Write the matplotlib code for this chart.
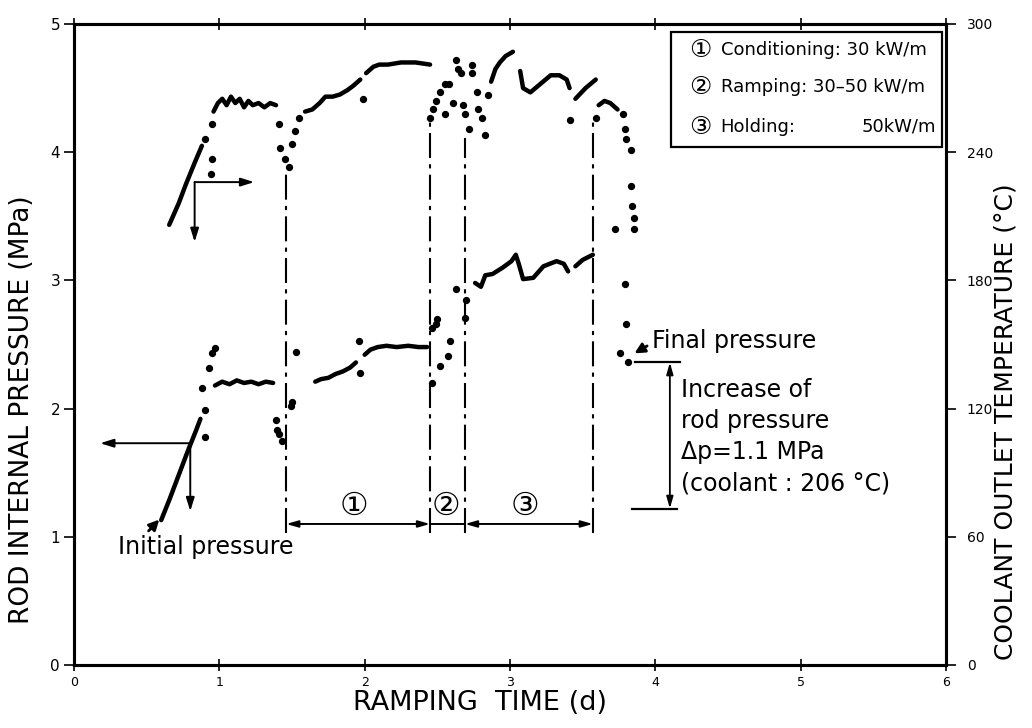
import matplotlib
matplotlib.use("Agg")
import matplotlib.pyplot as plt
from matplotlib.patches import Rectangle

plt.rcParams['font.family'] = ['DejaVu Sans', 'Noto Sans CJK JP']

# rod internal pressure (MPa) -- dense runs drawn as traces, sparse readings as dots
p_ramp_day = [0.60, 0.66, 0.72, 0.78, 0.84, 0.87]
p_ramp_mpa = [1.13, 1.30, 1.48, 1.66, 1.83, 1.92]
p_plat_day = [0.97, 1.02, 1.07, 1.12, 1.17, 1.22, 1.27, 1.32, 1.37]
p_plat_mpa = [2.18, 2.21, 2.19, 2.22, 2.20, 2.21, 2.19, 2.21, 2.20]
p_cond_day = [1.66, 1.70, 1.75, 1.80, 1.85, 1.90, 1.94]
p_cond_mpa = [2.21, 2.23, 2.24, 2.27, 2.29, 2.32, 2.36]
p_cond2_day = [2.00, 2.04, 2.09, 2.15, 2.22, 2.30, 2.37, 2.43]
p_cond2_mpa = [2.42, 2.46, 2.48, 2.49, 2.48, 2.49, 2.48, 2.48]
p_hold_day = [2.76, 2.80, 2.83, 2.88, 2.95, 3.01, 3.04, 3.06, 3.09, 3.16, 3.23, 3.32, 3.37, 3.40]
p_hold_mpa = [2.98, 2.95, 3.04, 3.05, 3.10, 3.15, 3.20, 3.13, 3.01, 3.02, 3.11, 3.15, 3.13, 3.07]
p_hold2_day = [3.45, 3.50, 3.57]
p_hold2_mpa = [3.11, 3.16, 3.20]
p_dot_day = [0.88, 0.90, 0.90, 0.93, 0.95, 0.97, 1.39, 1.40, 1.41, 1.43, 1.49, 1.50, 1.53,
             1.96, 1.97, 2.46, 2.46, 2.49, 2.50, 2.52, 2.57, 2.59, 2.63, 2.69, 2.70,
             3.76, 3.79, 3.80, 3.81]
p_dot_mpa = [2.16, 1.78, 1.99, 2.32, 2.43, 2.47, 1.91, 1.83, 1.80, 1.75, 2.02, 2.05, 2.44,
             2.53, 2.28, 2.20, 2.63, 2.66, 2.70, 2.33, 2.41, 2.53, 2.93, 2.71, 2.85,
             2.43, 2.97, 2.66, 2.36]

# coolant outlet temperature (deg C)
t_ramp_day = [0.655, 0.72, 0.77, 0.83, 0.88]
t_ramp_c = [206, 216, 225, 235, 243]
t_plat_day = [0.96, 0.99, 1.02, 1.05, 1.08, 1.11, 1.14, 1.17, 1.20, 1.23, 1.27, 1.31, 1.35, 1.39]
t_plat_c = [259, 263, 265, 262, 266, 263, 265, 261, 264, 262, 263, 261, 263, 262]
t_cond_day = [1.59, 1.64, 1.69, 1.73, 1.78, 1.83, 1.88, 1.92, 1.97]
t_cond_c = [259, 260, 263, 266, 266, 267, 269, 271, 274]
t_cond2_day = [2.01, 2.06, 2.10, 2.16, 2.25, 2.35, 2.45]
t_cond2_c = [277, 280, 281, 281, 282, 282, 281]
t_hold_day = [2.87, 2.90, 2.93, 2.97, 3.02]
t_hold_c = [273, 279, 282, 285, 287]
t_hold2_day = [3.07, 3.09, 3.14, 3.21, 3.28, 3.34, 3.39, 3.41]
t_hold2_c = [278, 270, 268, 272, 276, 276, 274, 270]
t_hold3_day = [3.45, 3.52, 3.59]
t_hold3_c = [265, 270, 274]
t_end_day = [3.61, 3.65, 3.69, 3.74]
t_end_c = [262, 264, 263, 260]
t_dot_day = [0.90, 0.94, 0.95, 0.95, 1.41, 1.42, 1.45, 1.48, 1.50, 1.52, 1.55, 1.99,
             2.45, 2.47, 2.49, 2.52, 2.55, 2.55, 2.58, 2.61, 2.63, 2.64, 2.66, 2.68,
             2.69, 2.72, 2.74, 2.74, 2.77, 2.78, 2.81, 2.83, 2.85, 3.41, 3.59, 3.72,
             3.78, 3.79, 3.80, 3.83, 3.83, 3.84, 3.85, 3.85]
t_dot_c = [246, 230, 237, 253, 253, 242, 237, 233, 244, 250, 256, 265,
           256, 260, 264, 268, 272, 258, 272, 263, 283, 279, 277, 262,
           258, 251, 281, 277, 268, 260, 256, 248, 267, 255, 256, 204,
           258, 251, 246, 241, 224, 215, 209, 204]

# phase boundaries (d) and how high each marker line reaches (MPa)
phase_edges = [1.46, 2.45, 2.69, 3.57]
edge_tops = [3.83, 4.24, 4.11, 4.24]
phase_marks = ['\u2460', '\u2461', '\u2462']
legend_rows = ['Conditioning: 30 kW/m', 'Ramping: 30\u201350 kW/m', 'Holding:']

initial_p = 1.13
final_p = 2.36
base_p = 1.22

fig = plt.figure(figsize=(10.32, 7.28), dpi=100)
ax = fig.add_axes([74 / 1032, 63 / 728, 872 / 1032, 641 / 728])
ax2 = ax.twinx()

ax.set_xlim(0, 6)
ax.set_ylim(0, 5)
ax2.set_ylim(0, 300)
ax.set_xticks(range(7))
ax.set_yticks(range(6))
ax2.set_yticks(range(0, 301, 60))
ax.tick_params(axis='x', direction='inout', length=8, width=1.2, top=True, labelsize=9, pad=4)
ax.tick_params(axis='y', direction='out', length=7, width=1.2, labelsize=11, pad=3)
ax2.tick_params(axis='y', direction='out', length=7, width=1.2, labelsize=10, pad=8)
for a in (ax, ax2):
    for s in a.spines.values():
        s.set_linewidth(2.2)

blk = 'black'
for xs, ys in [(p_ramp_day, p_ramp_mpa), (p_plat_day, p_plat_mpa), (p_cond_day, p_cond_mpa),
               (p_cond2_day, p_cond2_mpa), (p_hold_day, p_hold_mpa), (p_hold2_day, p_hold2_mpa)]:
    ax.plot(xs, ys, color=blk, lw=3.2, solid_capstyle='round')
ax.scatter(p_dot_day, p_dot_mpa, s=18, color=blk, zorder=3)

for xs, ys in [(t_ramp_day, t_ramp_c), (t_plat_day, t_plat_c), (t_cond_day, t_cond_c),
               (t_cond2_day, t_cond2_c), (t_hold_day, t_hold_c), (t_hold2_day, t_hold2_c),
               (t_hold3_day, t_hold3_c), (t_end_day, t_end_c)]:
    ax2.plot(xs, ys, color=blk, lw=3.2, solid_capstyle='round')
ax2.scatter(t_dot_day, t_dot_c, s=18, color=blk, zorder=3)

# phase boundaries and interval arrows
for xe, top in zip(phase_edges, edge_tops):
    ax.plot([xe, xe], [1.03, top], color=blk, lw=1.5, ls=(0, (12, 3, 2, 3)))
arr = dict(arrowstyle='<|-|>,head_length=0.7,head_width=0.2', color=blk, lw=1.4,
           shrinkA=0, shrinkB=0)
ax.annotate('', xy=(phase_edges[0], 1.10), xytext=(phase_edges[1], 1.10), arrowprops=arr)
ax.plot(phase_edges[1:3], [1.10, 1.10], color=blk, lw=1.4)
ax.annotate('', xy=(phase_edges[2], 1.10), xytext=(phase_edges[3], 1.10), arrowprops=arr)
for xm, lab in zip([1.93, 2.56, 3.10], phase_marks):
    ax.text(xm, 1.24, lab, fontsize=23, ha='center', va='center')

# axis indicator arrows
one = dict(arrowstyle='-|>,head_length=0.8,head_width=0.25', color=blk, lw=1.4,
           shrinkA=0, shrinkB=0)
ax.annotate('', xy=(0.18, 1.73), xytext=(0.80, 1.73), arrowprops=one)
ax.annotate('', xy=(0.80, 1.20), xytext=(0.80, 1.73), arrowprops=one)
ax2.annotate('', xy=(1.24, 226), xytext=(0.83, 226), arrowprops=one)
ax2.annotate('', xy=(0.83, 198), xytext=(0.83, 226), arrowprops=one)

# initial / final pressure notes
ax.annotate('', xy=(0.60, initial_p + 0.02), xytext=(0.50, 1.03),
            arrowprops=dict(arrowstyle='-|>,head_length=0.6,head_width=0.3', color=blk, lw=2))
ax.text(1.51, 0.92, 'Initial pressure', fontsize=17, ha='right', va='center')
ax.annotate('', xy=(3.84, 2.42), xytext=(3.96, 2.50),
            arrowprops=dict(arrowstyle='-|>,head_length=0.6,head_width=0.3', color=blk, lw=2))
ax.text(3.98, 2.53, 'Final pressure', fontsize=17, ha='left', va='center')
ax.plot([3.86, 4.17], [final_p, final_p], color=blk, lw=1.6)
ax.plot([3.84, 4.15], [base_p, base_p], color=blk, lw=1.6)
ax.annotate('', xy=(4.10, final_p), xytext=(4.10, base_p),
            arrowprops=dict(arrowstyle='<|-|>,head_length=0.7,head_width=0.2', color=blk,
                            lw=1.3, shrinkA=0, shrinkB=0))
ax.text(4.18, 2.24, 'Increase of\nrod pressure\n\u0394p=1.1 MPa\n(coolant : 206 \u00b0C)',
        fontsize=17, ha='left', va='top', linespacing=1.38)

# phase legend box
ax.add_patch(Rectangle((4.11, 4.04), 1.86, 0.90, fill=False, lw=1.6, ec=blk, zorder=4))
for yy, mark, lab in zip([4.80, 4.51, 4.20], phase_marks, legend_rows):
    ax.text(4.31, yy, mark, fontsize=18, ha='center', va='center')
    ax.text(4.45, yy, lab, fontsize=13, ha='left', va='center')
ax.text(5.93, 4.20, '50kW/m', fontsize=13, ha='right', va='center')

fig.text(22 / 1032, 1 - 410 / 728, 'ROD INTERNAL PRESSURE (MPa)', rotation=90,
         fontsize=19, ha='center', va='center')
fig.text(1005 / 1032, 1 - 422 / 728, 'COOLANT OUTLET TEMPERATURE (\u00b0C)', rotation=90,
         fontsize=18, ha='center', va='center')
fig.text(480 / 1032, 1 - 703 / 728, 'RAMPING  TIME (d)', fontsize=19.5, ha='center', va='center')

fig.savefig('out.png', dpi=100)
